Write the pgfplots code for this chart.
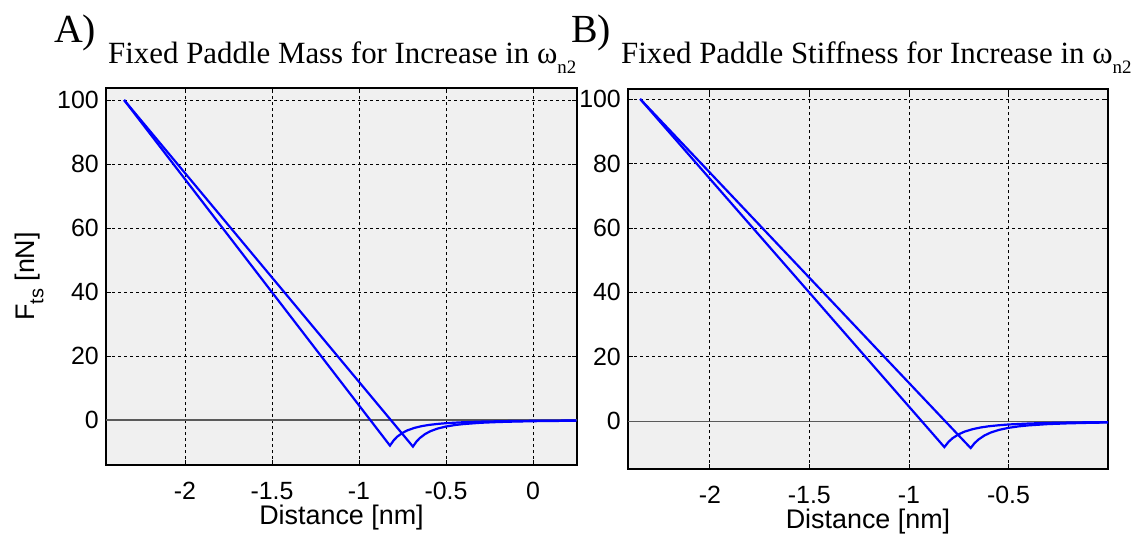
\documentclass[border=0pt]{standalone}
\usepackage{fontspec}
\setmainfont{Liberation Serif}
\newfontfamily\arial{Liberation Sans}
\usepackage{pgfplots}
\usepackage{pgfplotstable}
\pgfplotsset{compat=1.18}

\definecolor{bgray}{RGB}{240,240,240}
\definecolor{zline}{RGB}{90,90,90}
\definecolor{fblue}{RGB}{0,0,255}

% tip-sample force, stiffer branch (minimum near -0.82 nm)
\pgfplotstableread{
x y
-2.350 100.00
-0.822 -8.00
-0.800 -6.31
-0.780 -5.20
-0.750 -4.02
-0.720 -3.19
-0.680 -2.44
-0.640 -1.92
-0.600 -1.55
-0.550 -1.23
-0.500 -0.99
-0.400 -0.69
-0.300 -0.50
-0.200 -0.39
-0.100 -0.30
0.000 -0.25
0.100 -0.20
0.250 -0.16
}\branchone

% tip-sample force, second branch (minimum near -0.69 nm)
\pgfplotstableread{
x y
-2.350 100.00
-0.690 -8.30
-0.670 -6.76
-0.650 -5.62
-0.620 -4.38
-0.590 -3.51
-0.550 -2.70
-0.500 -2.03
-0.450 -1.58
-0.400 -1.27
-0.300 -0.86
-0.200 -0.63
-0.100 -0.48
0.000 -0.37
0.100 -0.30
0.250 -0.23
}\branchtwo

\pgfplotsset{
  panel/.style={
    scale only axis,
    anchor=south west,
    axis background/.style={fill=bgray},
    axis line style={black, line width=1.1bp},
    grid=major,
    major grid style={black, line width=0.7bp, dash pattern=on 3bp off 3bp},
    tick align=inside,
    major tick length=5bp,
    tick style={black, line width=0.7bp},
    ytick={0,20,40,60,80,100},
    yticklabels={0,20,40,60,80,100},
    ticklabel style={font=\arial\fontsize{25}{25}\selectfont, inner sep=0pt},
    xticklabel style={anchor=base, yshift=-34bp},
    yticklabel style={anchor=east, xshift=-7bp},
    xlabel={Distance [nm]},
    xlabel style={font=\arial\fontsize{27}{27}\selectfont, inner sep=0pt,
      anchor=base, at={(rel axis cs:0.5,0)}, yshift=-59bp},
  },
  fcurve/.style={fblue, line width=2.2bp, no marks},
  zcurve/.style={zline, line width=1.5bp, no marks, forget plot},
}

\begin{document}
\begin{tikzpicture}[x=1bp,y=1bp]
\useasboundingbox (0,0) rectangle (1138,-535);

% panel A: fixed paddle mass
\begin{axis}[panel,
  at={(106bp,-465bp)}, width=471bp, height=377bp,
  xmin=-2.454, xmax=0.253, ymin=-14.06, ymax=103.75,
  xtick={-2,-1.5,-1,-0.5,0},
  xticklabels={{-2},{-1.5},{-1},{-0.5},{0}},
  ylabel={F\raisebox{-0.32em}{\fontsize{20}{20}\selectfont ts} [nN]},
  ylabel style={font=\arial\fontsize{27}{27}\selectfont, inner sep=0pt,
    rotate=0, anchor=base, at={(rel axis cs:-0.151,0.5)}},
]
\addplot[zcurve] coordinates {(-3,0) (1,0)};
\addplot[fcurve] table {\branchone};
\addplot[fcurve] table {\branchtwo};
\end{axis}

% panel B: fixed paddle stiffness
\begin{axis}[panel,
  at={(628bp,-469bp)}, width=480bp, height=380bp,
  xmin=-2.411, xmax=0.0, ymin=-14.8, ymax=103.1,
  xtick={-2,-1.5,-1,-0.5},
  xticklabels={{-2},{-1.5},{-1},{-0.5}},
]
\addplot[zcurve] coordinates {(-3,0) (1,0)};
\addplot[fcurve] table {\branchone};
\addplot[fcurve] table {\branchtwo};
\end{axis}

% panel letters and titles
\node[anchor=base west, inner sep=0pt, font=\fontsize{40}{40}\selectfont] at (54,-43) {A)};
\node[anchor=base west, inner sep=0pt, font=\fontsize{31}{31}\selectfont] at (108,-64)
  {Fixed Paddle Mass for Increase in ω\raisebox{-0.3em}{\fontsize{19}{19}\selectfont n2}};
\node[anchor=base west, inner sep=0pt, font=\fontsize{40}{40}\selectfont] at (571,-43) {B)};
\node[anchor=base west, inner sep=0pt, font=\fontsize{31}{31}\selectfont] at (621,-64)
  {Fixed Paddle Stiffness for Increase in ω\raisebox{-0.3em}{\fontsize{19}{19}\selectfont n2}};
\end{tikzpicture}
\end{document}
